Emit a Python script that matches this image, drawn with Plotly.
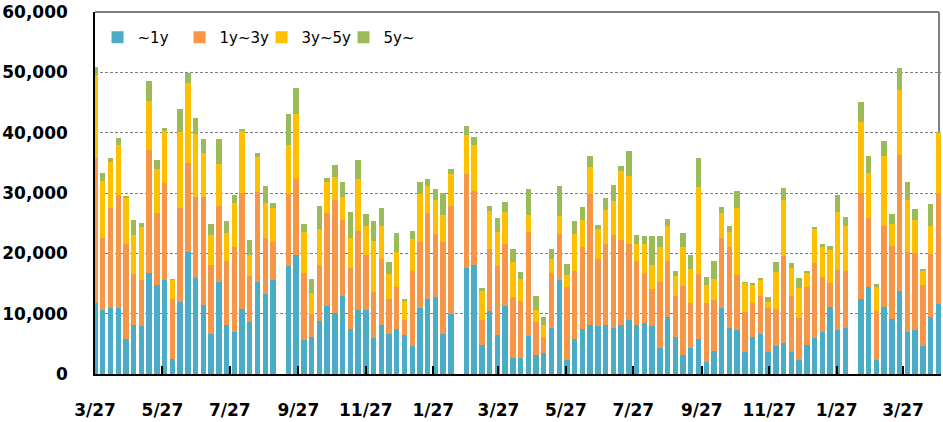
import plotly.graph_objects as go
import pandas as pd

# Weekly categories (110 weekly slots); None = week without data
weeks = pd.date_range("2010-03-27", periods=110, freq="7D")

series_names = ["~1y", "1y~3y", "3y~5y", "5y~"]
colors = ["#4BACC6", "#F79646", "#FFC000", "#9BBB59"]

y_1y = [11800, 10600, 11000, 10900, 5800, 8200, 7900, 16700, 14800, 15500,
        2500, 12000, 20200, 15900, 11500, 6600, 15200, 8100, 7000, 10800,
        8600, 15200, 13300, 15500, None, 17900, 19800, 5700, 6200, 8800,
        11300, 10100, 12900, 7400, 10600, 10600, 5900, 8100, 6600, 7500,
        6500, 4600, 10900, 12400, 12800, 6600, 9900, None, 17600, 18000,
        4800, 10400, 6500, 11300, 2700, 2700, 6300, 3200, 3500, 7600,
        15500, 2400, 5800, 7500, 8100, 7900, 8100, 7700, 8200, 8900,
        8100, 8500, 7900, 4300, 9400, 6200, 3200, 4300, 5800, 2000,
        3800, 10900, 7700, 7300, 3600, 6200, 6700, 3600, 4700, 5100,
        3600, 2300, 4800, 5900, 7000, 11100, 7300, 7700, None, 12400,
        14400, 2400, 11100, 9200, 13800, 7000, 7300, 4700, 9400, 11600]

y_1y3y = [24000, 12000, 16500, 18700, 15700, 8300, 7700, 20500, 11900, 16100,
          9900, 15500, 14700, 13400, 17800, 11400, 12700, 10700, 14100, 19200,
          7600, 15000, 9200, 6300, None, 12000, 12500, 11000, 3800, 9200,
          15400, 18700, 12700, 10100, 13100, 9100, 7700, 11000, 5800, 7000,
          2500, 12400, 10900, 14300, 10400, 15300, 17900, None, 15600, 12400,
          4200, 10300, 11400, 10200, 10000, 9400, 17300, 5400, 2700, 9100,
          7700, 12000, 11300, 13500, 21700, 11200, 13400, 15300, 14000, 12700,
          10600, 8200, 6200, 11000, 9400, 6700, 11400, 7500, 10700, 9800,
          8500, 11600, 13300, 9100, 6600, 5500, 6300, 7300, 6100, 14400,
          9400, 7000, 9700, 12500, 9000, 4000, 9900, 9400, None, 17600,
          11400, 8100, 13500, 12100, 22500, 13300, 12700, 10100, 10500, 18400]

y_3y5y = [13700, 9400, 7600, 8300, 7700, 6600, 8800, 8100, 7300, 8600,
          3200, 12600, 13400, 10500, 7300, 5000, 6900, 4500, 7300, 10400,
          3600, 5800, 5900, 5700, None, 8100, 10800, 6900, 3400, 6100,
          5100, 3800, 3700, 5000, 8600, 4900, 8400, 5400, 4100, 5700,
          3100, 5300, 8100, 4500, 5600, 4400, 5400, None, 6400, 7500,
          4700, 6300, 5600, 5400, 5800, 3600, 2800, 2000, 2000, 2400,
          3000, 2000, 6100, 4600, 4500, 4900, 5700, 5700, 11500, 11200,
          2900, 4900, 4000, 5700, 5800, 3300, 6400, 5600, 14500, 2900,
          3400, 4200, 2600, 11100, 4900, 3100, 2500, 1100, 6100, 9300,
          4500, 5000, 2400, 5800, 5000, 5400, 9600, 7500, None, 11800,
          7600, 4000, 11600, 3500, 10700, 8500, 5500, 2400, 4600, 10000]

y_5y = [1400, 1300, 700, 1200, 200, 2500, 600, 3200, 1500, 600,
        100, 3900, 1600, 2700, 2400, 1800, 4200, 2000, 1200, 100,
        2400, 700, 2700, 900, None, 5100, 4300, 1300, 2300, 3700,
        700, 2100, 2500, 4400, 3100, 1900, 3400, 3000, 2100, 3100,
        200, 1400, 1900, 1100, 1900, 3700, 800, None, 1500, 1400,
        600, 800, 2300, 1600, 2200, 1200, 4300, 2300, 1300, 1700,
        4900, 1900, 2100, 2100, 1800, 700, 2000, 2600, 800, 4200,
        1400, 1200, 4700, 1900, 1100, 900, 2300, 2400, 4800, 1300,
        3100, 900, 1000, 2800, 100, 300, 400, 800, 1700, 2000,
        900, 1600, 200, 200, 600, 800, 2800, 1400, None, 3300,
        2800, 400, 2400, 1700, 3800, 3100, 1900, 200, 3700, 100]

tick_dates = ["2010-03-27", "2010-05-27", "2010-07-27", "2010-09-27", "2010-11-27",
              "2011-01-27", "2011-03-27", "2011-05-27", "2011-07-27", "2011-09-27",
              "2011-11-27", "2012-01-27", "2012-03-27"]

y_ticks = [0, 10000, 20000, 30000, 40000, 50000, 60000]

fig = go.Figure()
for name, vals, col in zip(series_names, [y_1y, y_1y3y, y_3y5y, y_5y], colors):
    fig.add_trace(go.Bar(x=weeks, y=vals, name=name, marker_color=col,
                         marker_line_width=0, width=4.9 * 86400000))

x_start = pd.Timestamp("2010-03-27")
x_end = x_start + pd.Timedelta(days=765.4)
right_border = weeks[-1] + pd.Timedelta(days=0.6)

fig.update_layout(
    barmode="stack",
    width=943, height=422,
    margin=dict(l=90, r=2, t=7, b=44),
    paper_bgcolor="white", plot_bgcolor="white",
    font=dict(family="DejaVu Sans", color="black"),
    showlegend=True,
    legend=dict(orientation="h", x=0.003, xanchor="left", y=0.975, yanchor="top",
                font=dict(size=15, family="DejaVu Sans", color="black"),
                bgcolor="rgba(0,0,0,0)", entrywidth=37, traceorder="normal",
                itemclick=False),
    bargap=0,
    shapes=[
        dict(type="line", xref="paper", yref="paper", x0=0, x1=(939 - 90) / 851,
             y0=1, y1=1, line=dict(color="#7f7f7f", width=2), layer="below"),
        dict(type="line", xref="x", yref="paper", x0=right_border, x1=right_border,
             y0=0, y1=1, line=dict(color="#7f7f7f", width=2), layer="below"),
    ],
)

fig.update_xaxes(
    type="date", range=[x_start, x_end],
    tickvals=tick_dates, tickformat="%-m/%d",
    ticks="inside", ticklen=8, tickwidth=1.5, tickcolor="black",
    showline=True, linecolor="black", linewidth=1.5,
    showgrid=False, zeroline=False,
    tickfont=dict(family="DejaVu Sans", size=17, color="black", weight="bold"),
    ticklabelstandoff=20,
)

fig.update_yaxes(
    range=[0, 60005], tickvals=y_ticks, tickformat=",",
    showline=True, linecolor="black", linewidth=1.5,
    showgrid=True, gridcolor="#808080", gridwidth=1, griddash="3px,2px",
    zeroline=False, ticks="", ticklabeloverflow="allow",
    tickfont=dict(family="DejaVu Sans", size=17, color="black", weight="bold"),
    ticklabelstandoff=22,
)

fig.write_html("out.html")
